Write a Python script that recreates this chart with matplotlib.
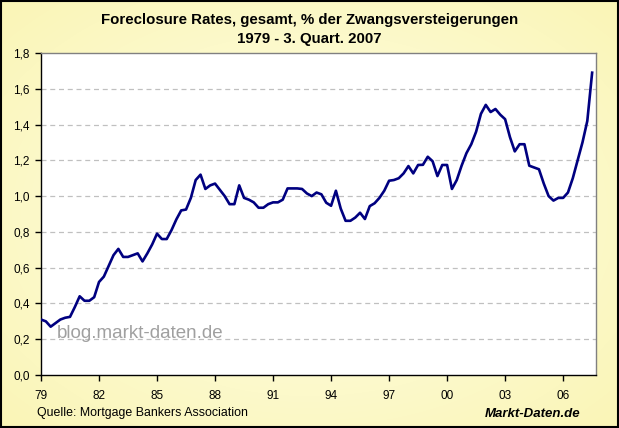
import numpy as np
import matplotlib
matplotlib.use("Agg")
import matplotlib.pyplot as plt
from matplotlib.ticker import FuncFormatter

# Quarterly foreclosure rate, 1979 Q1 .. 2007 Q3
rates = [
    0.31, 0.30, 0.27, 0.29, 0.31, 0.32, 0.325, 0.38,   # 1979-80
    0.44, 0.415, 0.415, 0.435, 0.52, 0.55, 0.61, 0.67,  # 1981-82
    0.705, 0.66, 0.66, 0.67, 0.68, 0.635, 0.68, 0.73,   # 1983-84
    0.79, 0.76, 0.76, 0.81, 0.87, 0.92, 0.925, 0.99,    # 1985-86
    1.09, 1.12, 1.04, 1.06, 1.07, 1.035, 1.00, 0.955,   # 1987-88
    0.955, 1.06, 0.99, 0.98, 0.965, 0.935, 0.935, 0.955, # 1989-90
    0.965, 0.965, 0.98, 1.043, 1.043, 1.043, 1.04, 1.015, # 1991-92
    1.00, 1.02, 1.01, 0.963, 0.946, 1.03, 0.93, 0.862,  # 1993-94
    0.862, 0.88, 0.907, 0.872, 0.944, 0.96, 0.99, 1.03, # 1995-96
    1.086, 1.09, 1.10, 1.127, 1.168, 1.127, 1.174, 1.175, # 1997-98
    1.22, 1.195, 1.112, 1.174, 1.174, 1.04, 1.09, 1.17, # 1999-00
    1.24, 1.29, 1.36, 1.46, 1.51, 1.47, 1.487, 1.455,   # 2001-02
    1.43, 1.33, 1.25, 1.29, 1.29, 1.17, 1.16, 1.15,     # 2003-04
    1.07, 1.00, 0.975, 0.99, 0.99, 1.02, 1.10, 1.20,    # 2005-06
    1.30, 1.42, 1.69,                                   # 2007
]
xtick_labels = ["79", "82", "85", "88", "91", "94", "97", "00", "03", "06"]
ytick_values = [0.0, 0.2, 0.4, 0.6, 0.8, 1.0, 1.2, 1.4, 1.6, 1.8]
title_text = "Foreclosure Rates, gesamt, % der Zwangsversteigerungen\n1979 - 3. Quart. 2007"
source_text = "Quelle: Mortgage Bankers Association"
brand_text = "Markt-Daten.de"
watermark_text = "blog.markt-daten.de"

plt.rcParams['font.family'] = ['Liberation Sans', 'DejaVu Sans']

W, H = 619, 428
fig = plt.figure(figsize=(W / 100, H / 100), dpi=100)

# gradient background
bg = fig.add_axes([0, 0, 1, 1], zorder=-10)
yy, xx = np.mgrid[0:H, 0:W]
d = np.sqrt(((xx - W / 2) / (W / 2)) ** 2 + ((yy - H / 2) / (H / 2)) ** 2) / np.sqrt(2)
d = np.clip(d, 0, 1)
c_center = np.array([255, 255, 232]) / 255
c_edge = np.array([250, 245, 182]) / 255
img = c_center[None, None, :] * (1 - d[..., None]) + c_edge[None, None, :] * d[..., None]
bg.imshow(img, aspect='auto', extent=[0, 1, 0, 1])
bg.set_xlim(0, 1)
bg.set_ylim(0, 1)
bg.axis('off')
# outer frame
bg.add_patch(plt.Rectangle((0.001, 0.002), 0.997, 0.996, fill=False,
                           edgecolor='black', linewidth=1.5, transform=bg.transAxes))

ax = fig.add_axes([41 / W, 1 - 375 / H, (596 - 41) / W, (375 - 53) / H])
ax.set_facecolor('white')
x = np.arange(len(rates))
ax.plot(x, rates, color='#000080', linewidth=1.9, solid_joinstyle='round', zorder=3)

ax.set_xlim(0, 114.8)
ax.set_ylim(0, 1.8)
ax.set_yticks(ytick_values)
ax.yaxis.set_major_formatter(FuncFormatter(lambda v, p: f"{v:.1f}".replace('.', ',')))
ax.set_xticks(np.arange(len(xtick_labels)) * 12)
ax.set_xticklabels(xtick_labels)
for v in ytick_values[1:-1]:
    ax.axhline(v, color='#C0C0C0', linewidth=0.9, linestyle=(0, (4, 3)), zorder=1)

for side in ['top', 'right']:
    ax.spines[side].set_color('#808080')
    ax.spines[side].set_linewidth(1.0)
for side in ['left', 'bottom']:
    ax.spines[side].set_color('black')
    ax.spines[side].set_linewidth(1.0)

ax.tick_params(axis='y', direction='out', length=4, width=1, pad=4, labelsize=8.5, colors='black')
ax.tick_params(axis='x', direction='out', length=4, width=1, pad=6.5, labelsize=8.5, colors='black')

fig.text(0.5, 1 - 29.5 / H, title_text, ha='center', va='center', fontsize=10.8,
         fontweight='bold', linespacing=1.4)
fig.text(37 / W, 1 - 413 / H, source_text, ha='left', va='center', fontsize=8.9)
fig.text(580 / W, 1 - 414 / H, brand_text, ha='right', va='center', fontsize=9.5,
         fontweight='bold', fontstyle='italic')
ax.text(57 / W, 1 - 333 / H, watermark_text, transform=fig.transFigure, ha='left',
        va='center', fontsize=13.5, color='#A0A0A0', zorder=2)

fig.savefig('out.png', dpi=100)
